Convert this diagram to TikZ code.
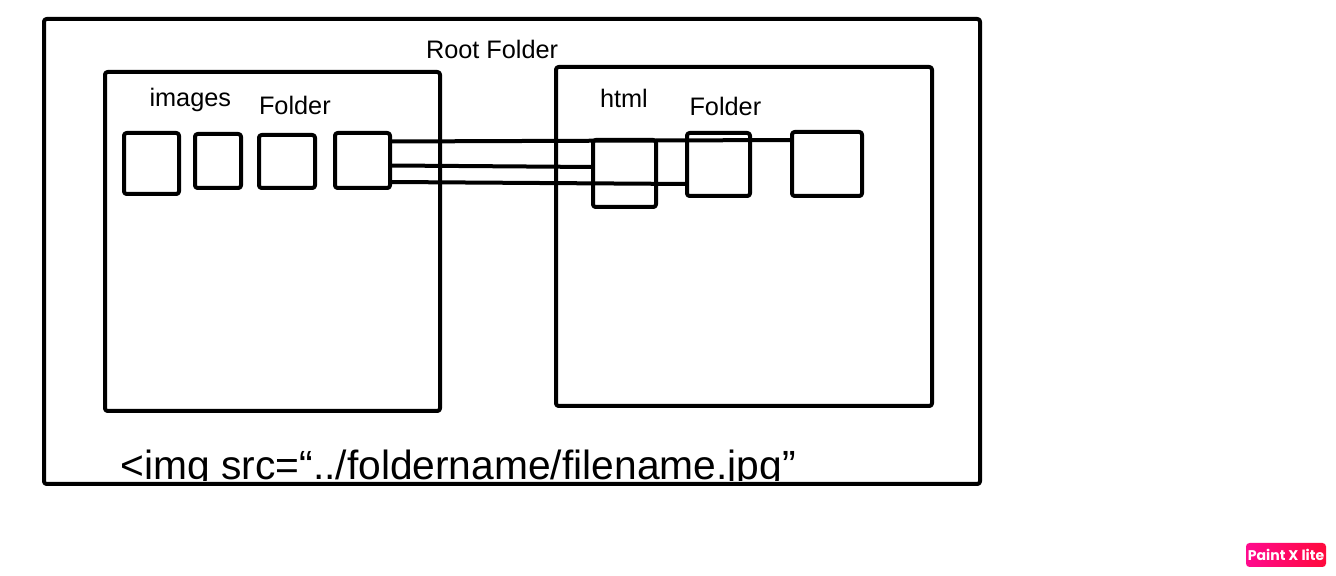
\documentclass[tikz,border=0pt]{standalone}
\usepackage{fontspec}
\setmainfont{Liberation Sans}
\newfontfamily\badgefont{Poppins}
\usetikzlibrary{calc}

\definecolor{badgepink}{HTML}{FF0A8E}
\definecolor{badgered}{HTML}{FF0A3C}

\begin{document}
\begin{tikzpicture}[%
    line width=0.08cm,          % thick marker strokes
    line join=round,
    ]

\tikzset{
  box/.style={draw, rectangle, rounded corners=1.5pt, inner sep=0pt, outer sep=0pt},
  caption/.style={anchor=base west, inner sep=0pt, font=\fontsize{14.4}{17}\selectfont},
  badge/.style={rounded corners=2pt, left color=badgepink, right color=badgered,
                text=white, minimum width=1.6cm, minimum height=0.48cm, inner sep=0pt,
                font=\badgefont\bfseries\fontsize{8}{9}\selectfont}
  };

\useasboundingbox (0,0) rectangle (26.72,11.52);

% ROOT folder
\node[box, minimum width=18.72cm, minimum height=9.30cm] (root) at (10.24,6.49) {};
\node[caption] (rootname) at (8.48,10.34) {Root Folder};

\begin{scope}
  \clip ([yshift=0.07cm]root.south west) rectangle (root.north east);
  \node[anchor=base west, inner sep=0pt, font=\fontsize{23.2}{27}\selectfont] (src) at (2.37,1.92)
    {<img src=“../foldername/filename.jpg”};
\end{scope}

% IMAGES folder
\node[box, minimum width=6.70cm, minimum height=6.78cm] (images) at (5.45,6.69) {};
\node[caption] (imagesname) at (2.95,9.39) {images};
\node[caption] (imagesfolder) at (5.14,9.23) {Folder};

\node[box, minimum width=1.10cm, minimum height=1.22cm] (img1) at (3.03,8.25) {};
\node[box, minimum width=0.92cm, minimum height=1.08cm] (img2) at (4.36,8.30) {};
\node[box, minimum width=1.12cm, minimum height=1.06cm] (img3) at (5.74,8.29) {};
\node[box, minimum width=1.10cm, minimum height=1.10cm] (img4) at (7.25,8.31) {};

% HTML folder
\node[box, minimum width=7.52cm, minimum height=6.78cm] (html) at (14.88,6.79) {};
\node[caption] (htmlname) at (11.96,9.37) {html};
\node[caption] (htmlfolder) at (13.75,9.20) {Folder};

\node[box, minimum width=1.26cm, minimum height=1.34cm] (hbox1) at (12.49,8.05) {};
\node[box, minimum width=1.26cm, minimum height=1.26cm] (hbox2) at (14.37,8.23) {};
\node[box, minimum width=1.40cm, minimum height=1.28cm] (hbox3) at (16.54,8.24) {};

% links
\draw ([yshift=0.38cm]img4.east) -- ([yshift=0.48cm]hbox3.west);
\draw ([yshift=-0.10cm]img4.east) -- ([yshift=0.13cm]hbox1.west);
\draw ([yshift=-0.43cm]img4.east) -- ([yshift=-0.39cm]hbox2.west);

% watermark
\node[badge] (paintx) at (25.72,0.42) {Paint X lite};

\end{tikzpicture}
\end{document}
